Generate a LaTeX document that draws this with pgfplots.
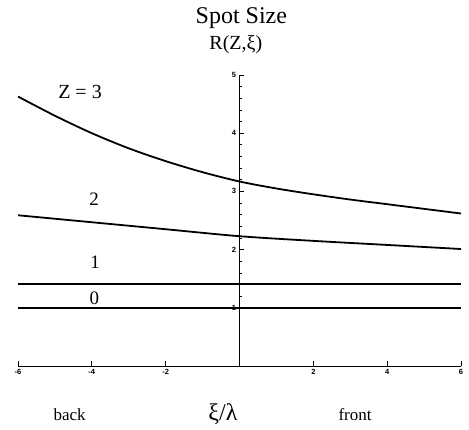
\documentclass[border=0pt]{standalone}
\usepackage{fontspec}
\setmainfont{Liberation Serif}
\newfontfamily\tickfont{Liberation Sans}
\usepackage{pgfplots}
\pgfplotsset{compat=1.18}
\begin{document}
\begin{tikzpicture}
\begin{axis}[
  at={(0,0)}, anchor=south west,
  scale only axis, width=443pt, height=291pt,
  axis lines=middle,
  xmin=-6, xmax=6, ymin=0, ymax=5,
  xtick={-6,-4,-2,2,4,6},
  ytick={1,2,3,4,5},
  minor x tick num=3,
  minor y tick num=4,
  tick align=inside,
  major tick length=4.5pt,
  minor tick length=2.5pt,
  tick style={black, line width=0.7pt},
  axis line style={-, black, line width=0.9pt},
  ticklabel style={font=\tickfont\bfseries\fontsize{7.5}{7.5}\selectfont},
  /pgf/number format/assume math mode=true,
  clip=false,
]
\addplot[black, line width=1.8pt, smooth] coordinates {
 (-6,4.63) (-5,4.30) (-4,4.00) (-3,3.74) (-2,3.52) (-1,3.33) (0,3.17)
 (1,3.05) (2,2.95) (3,2.86) (4,2.78) (5,2.70) (6,2.62)};
\addplot[black, line width=1.8pt, smooth] coordinates {
 (-6,2.59) (-4,2.47) (-2,2.35) (0,2.23) (2,2.15) (4,2.08) (6,2.01)};
\addplot[black, line width=1.8pt] coordinates {(-6,1.414) (6,1.414)};
\addplot[black, line width=1.6pt] coordinates {(-6,1) (6,1)};
\node[anchor=base, font=\fontsize{24}{24}\selectfont] at (axis cs:0.05,5.88) {Spot Size};
\node[anchor=base, font=\fontsize{20}{20}\selectfont] at (axis cs:-0.1,5.44) {R(Z,ξ)};
\node[anchor=base, font=\fontsize{20}{20}\selectfont] at (axis cs:-4.32,4.59) {Z = 3};
\node[anchor=base, font=\fontsize{19}{19}\selectfont] at (axis cs:-3.94,2.755) {2};
\node[anchor=base, font=\fontsize{19}{19}\selectfont] at (axis cs:-3.91,1.667) {1};
\node[anchor=base, font=\fontsize{19}{19}\selectfont] at (axis cs:-3.93,1.065) {0};
\node[anchor=base, font=\fontsize{17}{17}\selectfont] at (axis cs:-4.6,-0.94) {back};
\node[anchor=base, font=\fontsize{24}{24}\selectfont] at (axis cs:-0.45,-0.94) {ξ/λ};
\node[anchor=base, font=\fontsize{17}{17}\selectfont] at (axis cs:3.13,-0.94) {front};
\end{axis}
\pgfresetboundingbox
\path (-18pt,-64pt) rectangle (451pt,366pt);
\end{tikzpicture}
\end{document}
